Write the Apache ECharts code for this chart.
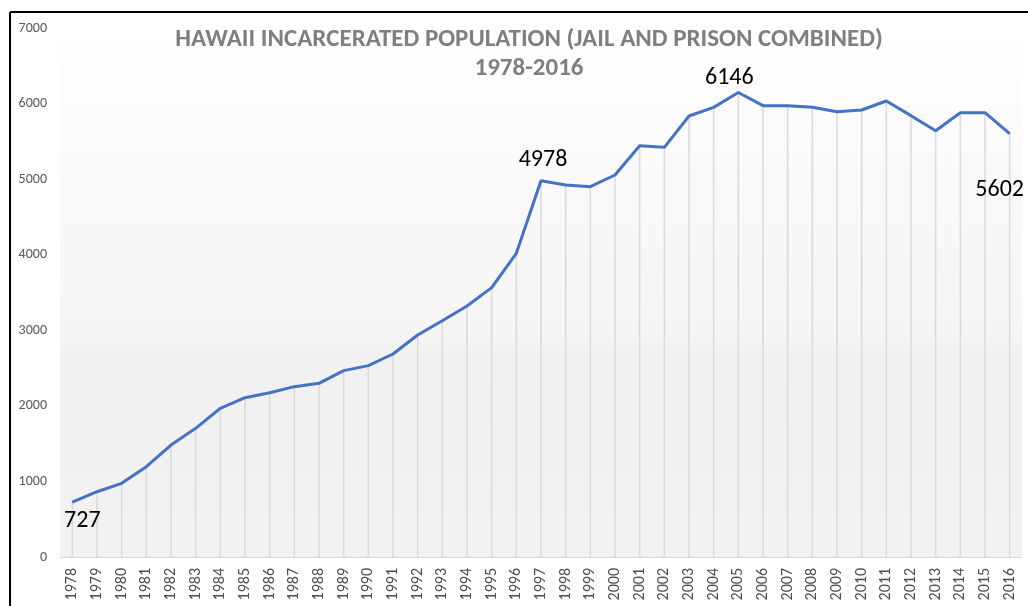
<!DOCTYPE html>
<html>
<head>
<meta charset="utf-8">
<script src="https://cdn.jsdelivr.net/npm/echarts@6/dist/echarts.min.js"></script>
<style>
  html, body { margin: 0; padding: 0; background: #fff; }
  #grafico { width: 1028px; height: 606px; }
</style>
</head>
<body>
<div id="grafico"></div>
<script>
// datos
const anios = ['1978', '1979', '1980', '1981', '1982', '1983', '1984', '1985', '1986', '1987',
  '1988', '1989', '1990', '1991', '1992', '1993', '1994', '1995', '1996', '1997',
  '1998', '1999', '2000', '2001', '2002', '2003', '2004', '2005', '2006', '2007',
  '2008', '2009', '2010', '2011', '2012', '2013', '2014', '2015', '2016'];
const poblacion = [727, 864, 975, 1195, 1482, 1703, 1968, 2108, 2174, 2254,
  2298, 2466, 2532, 2686, 2938, 3127, 3321, 3565, 4019, 4978,
  4922, 4900, 5055, 5443, 5421, 5836, 5950, 6146, 5972, 5972,
  5950, 5893, 5915, 6034, 5840, 5641, 5879, 5879, 5602];
const etiquetados = ['1978', '1997', '2005', '2016'];
const titulo = 'HAWAII INCARCERATED POPULATION (JAIL AND PRISON COMBINED)';
const subtitulo = '1978-2016';

const fuente = 'Carlito, "Open Sans", "Liberation Sans", sans-serif';

// posicion de cada etiqueta destacada
const estiloEtiqueta = {
  '1978': { position: 'bottom', distance: 6, offset: [10, 0] },
  '1997': { position: 'top', distance: 8, offset: [2, 0] },
  '2005': { position: 'top', distance: 2, offset: [-9, 0] },
  '2016': { position: 'bottom', distance: 44, offset: [-10, 0] }
};

const datosLinea = poblacion.map((v, i) => {
  const anio = anios[i];
  if (!etiquetados.includes(anio)) return v;
  return {
    value: v,
    label: Object.assign({
      show: true,
      formatter: '{c}',
      color: '#000',
      fontSize: 24,
      fontFamily: fuente
    }, estiloEtiqueta[anio])
  };
});

const miGrafico = echarts.init(document.getElementById('grafico'), null, { renderer: 'canvas' });

const opciones = {
  animation: false,
  backgroundColor: '#fff',
  title: {
    text: titulo + '\n' + subtitulo,
    left: 524,
    textAlign: 'center',
    top: 20,
    textStyle: {
      color: '#7f7f7f',
      fontSize: 25,
      fontWeight: 'bold',
      fontFamily: fuente,
      lineHeight: 29
    }
  },
  grid: {
    left: 60,
    right: 6,
    top: 28,
    bottom: 49,
    show: true,
    borderWidth: 0,
    backgroundColor: new echarts.graphic.LinearGradient(0, 0, 0, 1, [
      { offset: 0, color: '#ffffff' },
      { offset: 0.09, color: '#fdfdfd' },
      { offset: 0.58, color: '#f5f5f5' },
      { offset: 0.62, color: '#f1f1f1' },
      { offset: 1, color: '#f2f2f2' }
    ])
  },
  xAxis: {
    type: 'category',
    data: anios,
    boundaryGap: true,
    axisLine: { show: true, lineStyle: { color: '#d9d9d9', width: 1 } },
    axisTick: { show: false },
    axisLabel: {
      rotate: 90,
      interval: 0,
      margin: 11,
      color: '#4d4d4d',
      fontSize: 16,
      fontFamily: fuente
    },
    splitLine: { show: false }
  },
  yAxis: {
    type: 'value',
    min: 0,
    max: 7000,
    interval: 1000,
    axisLine: { show: false },
    axisTick: { show: false },
    splitLine: { show: false },
    axisLabel: {
      margin: 13,
      color: '#595959',
      fontSize: 14,
      fontFamily: fuente,
      formatter: valor => String(valor)
    }
  },
  series: [
    {
      // lineas verticales desde cada punto
      name: 'caida',
      type: 'bar',
      data: poblacion,
      barWidth: 1.5,
      itemStyle: { color: '#d9d9d9' },
      silent: true,
      z: 1
    },
    {
      name: 'Poblacion',
      type: 'line',
      data: datosLinea,
      symbol: 'circle',
      symbolSize: 1,
      showSymbol: true,
      itemStyle: { color: '#4472c4' },
      lineStyle: { color: '#4472c4', width: 3 },
      z: 3
    }
  ],
  graphic: [
    { type: 'line', shape: { x1: 10, y1: 12, x2: 10, y2: 606 }, style: { stroke: '#000', lineWidth: 2 } },
    { type: 'line', shape: { x1: 10, y1: 12, x2: 1028, y2: 12 }, style: { stroke: '#000', lineWidth: 2 } }
  ]
};

miGrafico.setOption(opciones);
</script>
</body>
</html>
